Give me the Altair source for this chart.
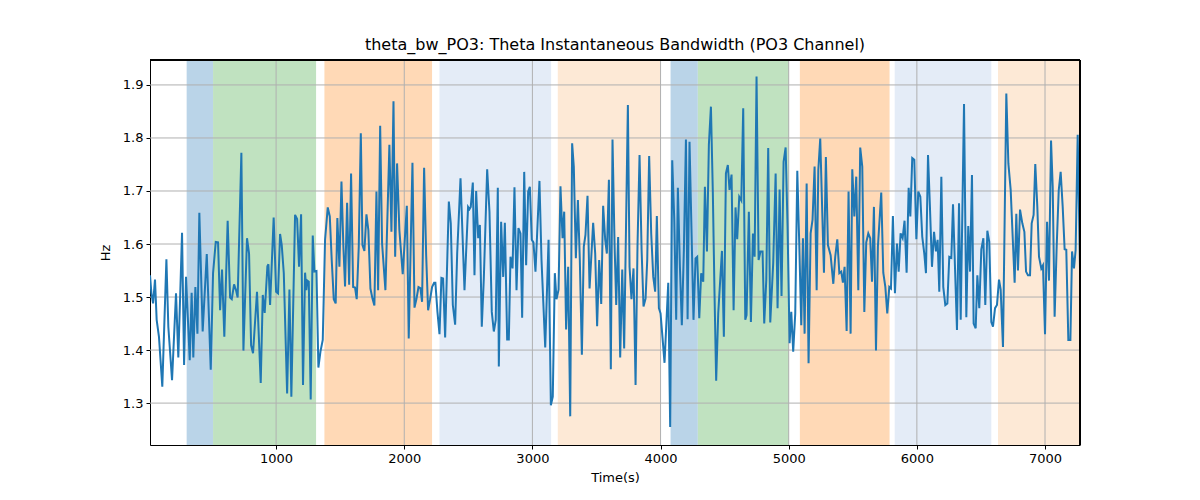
import altair as alt
import pandas as pd

time_s = [
    16, 27, 40, 55, 68, 86, 112, 144, 159, 188, 219, 237, 266, 282, 297, 326, 341, 354, 370, 386,
    401, 427, 459, 490, 508, 529, 547, 563, 578, 596, 622, 641, 654, 672, 687, 700, 729, 745, 773, 789,
    805, 820, 851, 880, 896, 911, 932,
    940, 953, 981, 1000, 1015, 1031, 1044, 1060, 1086, 1104, 1119, 1148, 1164, 1179, 1195, 1210, 1226, 1236, 1244, 1255,
    1270, 1286, 1299, 1315, 1330, 1346, 1364, 1382, 1403, 1419, 1434, 1450, 1465, 1478, 1494, 1510, 1525, 1538, 1554, 1570,
    1585, 1601, 1616, 1629, 1645, 1661, 1674, 1689, 1705, 1720, 1736, 1752, 1767, 1783, 1796, 1812,
    1827, 1853, 1884, 1900, 1916, 1929, 1944, 1962, 1988, 2020, 2035, 2064, 2080, 2095, 2111, 2126, 2139, 2155, 2171, 2186,
    2202, 2217, 2233, 2243, 2259, 2275, 2290, 2303, 2319, 2348, 2363, 2379, 2397, 2413, 2439, 2470, 2498, 2509, 2519, 2535,
    2548, 2561, 2577, 2590, 2605, 2621, 2647, 2665, 2683, 2699, 2714, 2730,
    2738, 2756, 2772, 2785, 2803, 2816, 2829, 2845, 2860, 2876, 2891, 2907, 2920, 2936, 2951, 2967, 2980, 2995, 3008, 3024,
    3055, 3071, 3100, 3126, 3144, 3159, 3175, 3188, 3204, 3219, 3235, 3248, 3263, 3279, 3295, 3310, 3323, 3339, 3355, 3370,
    3386, 3401, 3414, 3430, 3446, 3474, 3490, 3505, 3521, 3537, 3552, 3568, 3581, 3597, 3612,
    3625, 3641, 3654, 3669, 3685, 3701, 3716, 3745, 3758, 3773, 3789, 3805, 3820, 3836, 3852, 3867, 3883, 3896, 3911, 3927,
    3943, 3958, 3971, 3987, 4000, 4031, 4060, 4075, 4091, 4107, 4122, 4135, 4151, 4166, 4182, 4198, 4211, 4226, 4242, 4257,
    4273, 4286, 4302, 4317, 4333, 4346, 4362, 4377, 4393, 4408, 4421, 4434, 4450, 4479, 4494, 4510, 4525, 4538,
    4554, 4570, 4585, 4598, 4614, 4630, 4645, 4661, 4671, 4689, 4705, 4721, 4734, 4749, 4765, 4780, 4796, 4809, 4825, 4840,
    4856, 4879, 4898, 4913, 4929, 4944, 4960, 4976, 4991, 5007, 5020, 5035, 5051, 5067, 5082, 5098, 5111, 5124, 5140, 5155,
    5171, 5186, 5202, 5218, 5231, 5246, 5262, 5275, 5290, 5306, 5327, 5348, 5363, 5379, 5395, 5410, 5423, 5436,
    5452, 5467, 5483, 5496, 5512, 5527, 5543, 5558, 5574, 5590, 5605, 5621, 5636, 5650, 5665, 5681, 5696, 5722, 5738, 5754,
    5769, 5785, 5798, 5813, 5829, 5845, 5858, 5873, 5889, 5904, 5920, 5936, 5949, 5964, 5980, 5996, 6011, 6027, 6042, 6058,
    6071, 6087, 6102, 6118, 6134, 6149, 6162, 6175, 6191, 6206, 6222, 6238, 6253, 6269, 6282, 6297, 6313, 6329,
    6342, 6368, 6386, 6401, 6415, 6430, 6443, 6459, 6472, 6487, 6503, 6519, 6534, 6550, 6565, 6581, 6594, 6610, 6625, 6641,
    6654, 6672, 6698, 6714, 6732, 6763, 6776, 6789, 6805, 6823, 6839, 6852, 6867, 6883, 6896, 6911, 6924, 6940, 6953, 6971,
    6984, 7000, 7016, 7031, 7047, 7060, 7075, 7091, 7107, 7122, 7138, 7153, 7166, 7182, 7198, 7211, 7226, 7239, 7255, 7273,
]

bandwidth_hz = [
    1.541, 1.507, 1.488, 1.533, 1.457, 1.425, 1.331, 1.571, 1.444, 1.343, 1.507, 1.386, 1.621, 1.372, 1.538, 1.381, 1.508, 1.386, 1.519, 1.431,
    1.659, 1.435, 1.581, 1.363, 1.545, 1.604, 1.603, 1.475, 1.552, 1.425, 1.644, 1.499, 1.496, 1.524, 1.513, 1.499, 1.772, 1.399, 1.611, 1.582,
    1.409, 1.394, 1.510, 1.338, 1.504, 1.470, 1.558,
    1.562, 1.485, 1.650, 1.510, 1.507, 1.619, 1.598, 1.545, 1.318, 1.514, 1.312, 1.655, 1.647, 1.557, 1.656, 1.334, 1.546, 1.513, 1.531, 1.529,
    1.307, 1.616, 1.548, 1.549, 1.367, 1.397, 1.419, 1.608, 1.669, 1.652, 1.570, 1.496, 1.488, 1.649, 1.557, 1.718, 1.595, 1.520, 1.678, 1.523,
    1.733, 1.519, 1.518, 1.496, 1.595, 1.809, 1.598, 1.587, 1.656, 1.626, 1.516, 1.497, 1.484, 1.699, 1.513, 1.823,
    1.601, 1.513, 1.787, 1.623, 1.869, 1.576, 1.752, 1.626, 1.543, 1.672, 1.422, 1.753, 1.480, 1.496, 1.519, 1.517, 1.491, 1.744, 1.579, 1.475,
    1.496, 1.519, 1.527, 1.527, 1.472, 1.430, 1.536, 1.535, 1.424, 1.680, 1.639, 1.485, 1.448, 1.582, 1.724, 1.513, 1.670, 1.666, 1.670, 1.716,
    1.541, 1.700, 1.611, 1.636, 1.444, 1.536, 1.741, 1.661, 1.472, 1.435, 1.457, 1.706,
    1.369, 1.642, 1.538, 1.640, 1.420, 1.420, 1.576, 1.554, 1.707, 1.513, 1.630, 1.620, 1.461, 1.736, 1.560, 1.699, 1.708, 1.608, 1.603, 1.548,
    1.719, 1.570, 1.405, 1.608, 1.296, 1.312, 1.545, 1.496, 1.514, 1.709, 1.611, 1.661, 1.439, 1.557, 1.275, 1.790, 1.746, 1.573, 1.683, 1.570,
    1.391, 1.595, 1.617, 1.691, 1.516, 1.640, 1.582, 1.445, 1.570, 1.487, 1.672, 1.608, 1.582, 1.721, 1.364,
    1.797, 1.601, 1.485, 1.613, 1.386, 1.552, 1.403, 1.862, 1.557, 1.496, 1.554, 1.334, 1.595, 1.768, 1.589, 1.482, 1.497, 1.570, 1.766, 1.620,
    1.538, 1.510, 1.653, 1.479, 1.469, 1.376, 1.527, 1.255, 1.758, 1.646, 1.457, 1.706, 1.557, 1.447, 1.589, 1.797, 1.458, 1.793, 1.620, 1.457,
    1.573, 1.576, 1.460, 1.545, 1.529, 1.708, 1.586, 1.787, 1.859, 1.696, 1.507, 1.342, 1.469, 1.587, 1.425, 1.733, 1.749, 1.702,
    1.731, 1.475, 1.669, 1.609, 1.689, 1.682, 1.856, 1.457, 1.466, 1.661, 1.453, 1.620, 1.576, 1.916, 1.570, 1.586, 1.586, 1.450, 1.532, 1.781,
    1.452, 1.564, 1.733, 1.479, 1.703, 1.502, 1.755, 1.782, 1.633, 1.413, 1.472, 1.397, 1.469, 1.738, 1.603, 1.447, 1.611, 1.431, 1.714, 1.375,
    1.620, 1.646, 1.746, 1.513, 1.740, 1.799, 1.658, 1.546, 1.764, 1.598, 1.579, 1.525, 1.576, 1.609, 1.545, 1.548, 1.527, 1.557,
    1.436, 1.699, 1.431, 1.741, 1.652, 1.727, 1.513, 1.782, 1.746, 1.472, 1.603, 1.620, 1.611, 1.529, 1.670, 1.399, 1.595, 1.697, 1.546, 1.519,
    1.469, 1.519, 1.516, 1.653, 1.507, 1.601, 1.548, 1.620, 1.611, 1.644, 1.546, 1.706, 1.652, 1.762, 1.759, 1.609, 1.699, 1.689, 1.614, 1.582,
    1.545, 1.768, 1.670, 1.557, 1.623, 1.586, 1.608, 1.510, 1.727, 1.519, 1.485, 1.488, 1.576, 1.574, 1.675, 1.560, 1.438, 1.677,
    1.457, 1.864, 1.462, 1.634, 1.548, 1.730, 1.450, 1.441, 1.541, 1.479, 1.590, 1.611, 1.485, 1.625, 1.604, 1.453, 1.444, 1.479, 1.485, 1.533,
    1.514, 1.406, 1.884, 1.752, 1.702, 1.527, 1.657, 1.550, 1.665, 1.639, 1.623, 1.548, 1.541, 1.541, 1.639, 1.655, 1.751, 1.670, 1.576, 1.554,
    1.560, 1.430, 1.642, 1.531, 1.795, 1.708, 1.463, 1.595, 1.701, 1.736, 1.670, 1.590, 1.589, 1.419, 1.419, 1.586, 1.554, 1.589, 1.806, 1.554,
]

span_start = [302, 508, 1377, 2275, 3198, 4078, 4291, 5087, 5827, 6633]
span_end = [508, 1312, 2217, 3146, 3997, 4291, 5002, 5787, 6581, 7273]
span_color = ["#bad4e8", "#c0e2c0", "#ffd9b6", "#e4ecf7", "#fde9d6",
              "#bad4e8", "#c0e2c0", "#ffd9b6", "#e4ecf7", "#fde9d6"]

x_ticks = [1000, 2000, 3000, 4000, 5000, 6000, 7000]
y_ticks = [1.3, 1.4, 1.5, 1.6, 1.7, 1.8, 1.9]

X_MIN, X_MAX = 16, 7273
Y_MIN, Y_MAX = 1.221, 1.947

line_df = pd.DataFrame({"t": time_s, "hz": bandwidth_hz})
span_df = pd.DataFrame({"s": span_start, "e": span_end, "c": span_color})
xg_df = pd.DataFrame({"t": x_ticks})
yg_df = pd.DataFrame({"hz": y_ticks})

FONT = "DejaVu Sans"
W, H = 930, 385

xscale = alt.Scale(domain=[X_MIN, X_MAX], nice=False, zero=False)
yscale = alt.Scale(domain=[Y_MIN, Y_MAX], nice=False, zero=False)

xaxis = alt.Axis(values=x_ticks, format="d", title="Time(s)", grid=False,
                 labelFont=FONT, labelFontSize=13, titleFont=FONT, titleFontSize=13,
                 titleFontWeight="normal", labelColor="black", titleColor="black",
                 tickColor="black", domainColor="black", tickSize=4, labelPadding=3,
                 titlePadding=6)
yaxis = alt.Axis(values=y_ticks, format=".1f", title="Hz", grid=False,
                 labelFont=FONT, labelFontSize=13, titleFont=FONT, titleFontSize=13,
                 titleFontWeight="normal", labelColor="black", titleColor="black",
                 tickColor="black", domainColor="black", tickSize=4, labelPadding=3,
                 titlePadding=10)

spans = alt.Chart(span_df).mark_rect(clip=True).encode(
    x=alt.X("s:Q", scale=xscale, axis=xaxis),
    x2="e:Q",
    y=alt.value(0),
    y2=alt.value(H),
    color=alt.Color("c:N", scale=None),
)

xgrid = alt.Chart(xg_df).mark_rule(color="#b0b0b0", strokeWidth=1).encode(
    x=alt.X("t:Q", scale=xscale, axis=xaxis),
    y=alt.value(0),
    y2=alt.value(H),
)

ygrid = alt.Chart(yg_df).mark_rule(color="#b0b0b0", strokeWidth=1).encode(
    y=alt.Y("hz:Q", scale=yscale, axis=yaxis),
    x=alt.value(0),
    x2=alt.value(W),
)

line = alt.Chart(line_df).mark_line(color="#1f77b4", strokeWidth=2, clip=True).encode(
    x=alt.X("t:Q", scale=xscale, axis=xaxis),
    y=alt.Y("hz:Q", scale=yscale, axis=yaxis),
)

frame_top = alt.Chart(yg_df).mark_rule(color="black", strokeWidth=1).encode(
    x=alt.value(0), x2=alt.value(W), y=alt.value(0)
)
frame_right = alt.Chart(yg_df).mark_rule(color="black", strokeWidth=1).encode(
    x=alt.value(W), y=alt.value(0), y2=alt.value(H)
)

chart = alt.layer(spans, xgrid, ygrid, line, frame_top, frame_right).properties(
    width=W,
    height=H,
    title=alt.Title("theta_bw_PO3: Theta Instantaneous Bandwidth (PO3 Channel)",
                    font=FONT, fontSize=16, fontWeight="normal", color="black",
                    offset=7),
    autosize=alt.AutoSizeParams(type="none"),
    padding={"left": 150, "top": 60, "right": 120, "bottom": 55},
).configure_view(stroke="black", strokeWidth=1).configure(background="white")

chart.save("out.html", embed_options={"renderer": "svg", "actions": False})
